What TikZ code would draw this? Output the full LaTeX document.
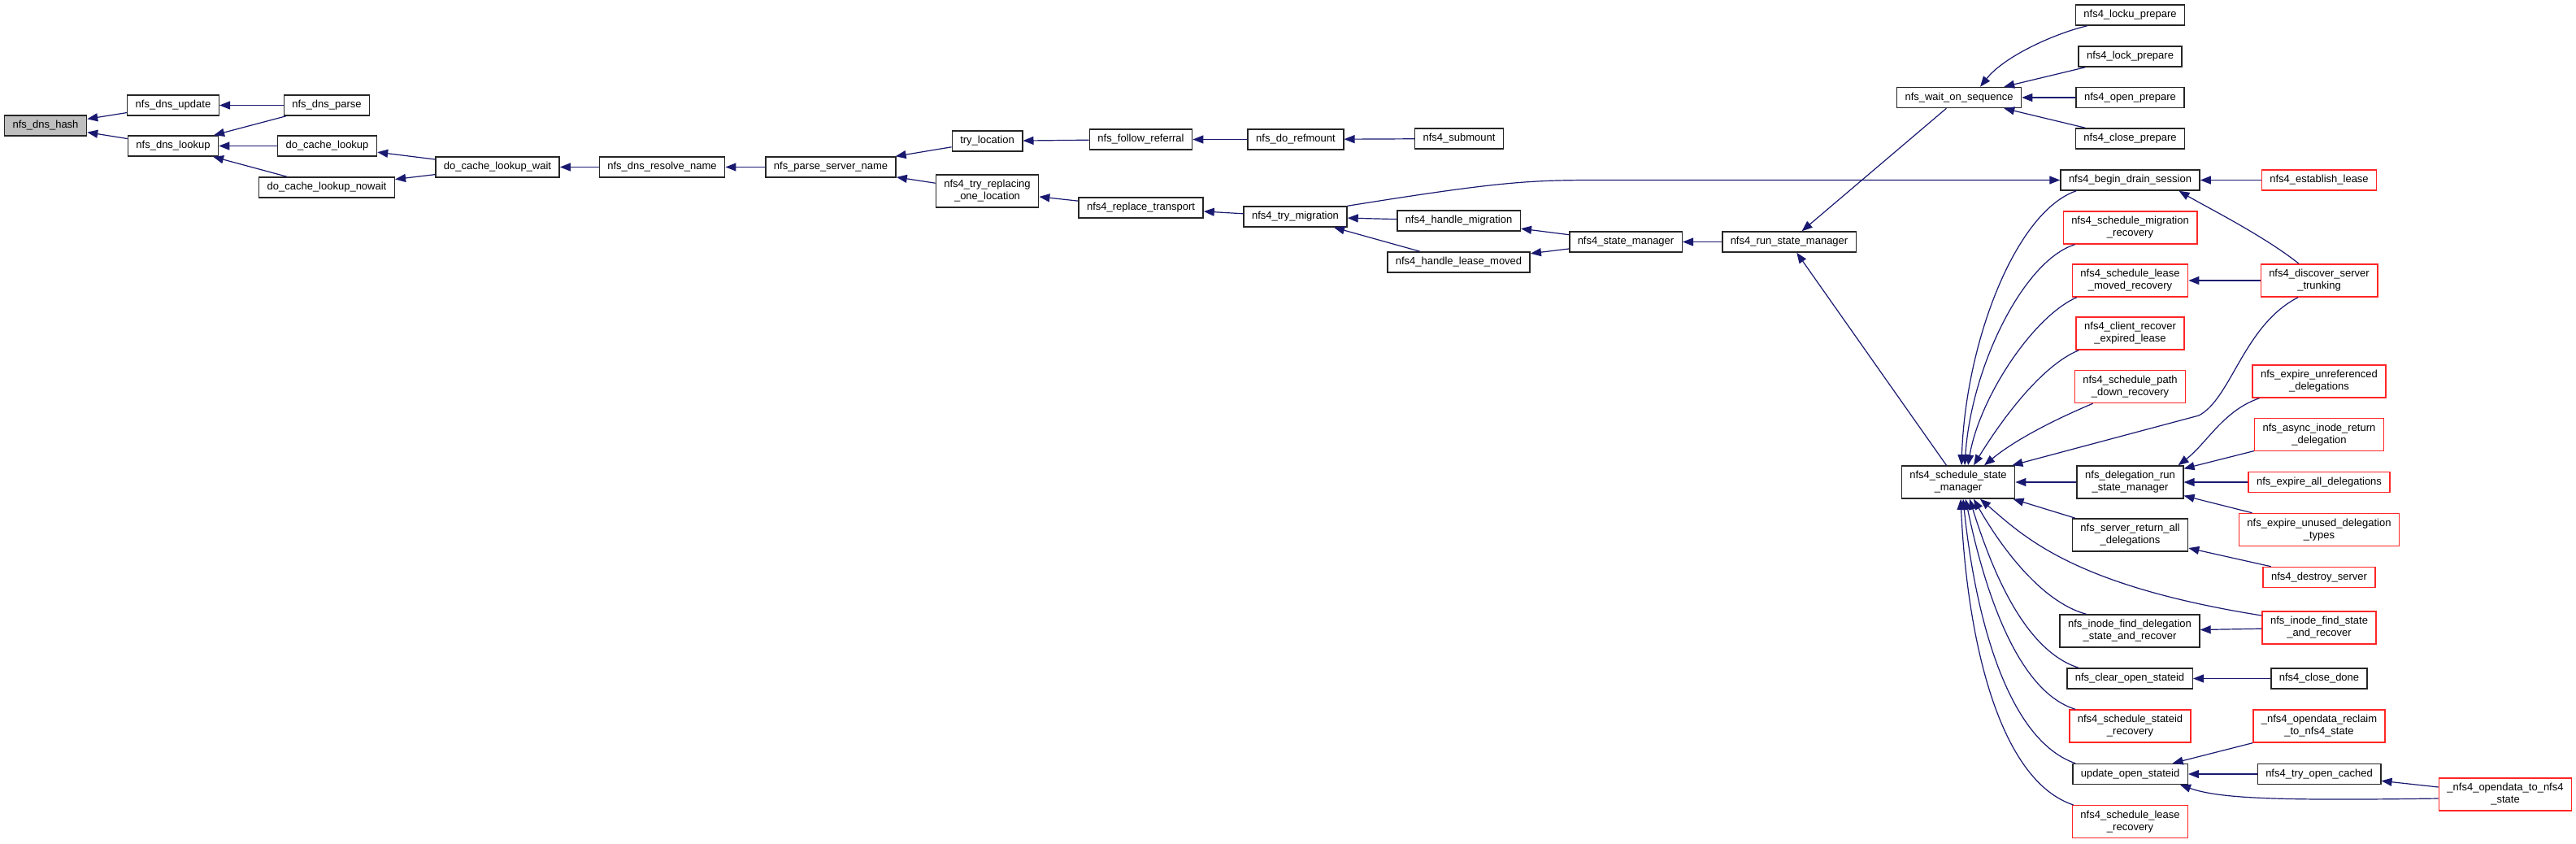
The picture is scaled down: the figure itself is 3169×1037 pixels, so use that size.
\documentclass[tikz,border=0pt]{standalone}
\usepackage{fontspec}
\setmainfont{Liberation Sans}
\usepackage{xcolor}
\usepackage{tikz}
\usetikzlibrary{arrows.meta}
\definecolor{edgeblue}{HTML}{191970}
\definecolor{selgray}{HTML}{BFBFBF}

\begin{document}
\begin{tikzpicture}[x=1pt,y=-1pt,font=\fontsize{13}{15}\selectfont,
  func/.style={draw=black!85,line width=1.5pt,fill=white,inner xsep=10pt,inner ysep=2pt,minimum height=25pt,align=center},
  redfunc/.style={func,draw=red!85},
  two/.style={minimum height=40pt},
  callarr/.style={draw=edgeblue,line width=1.2pt,{Triangle[length=13pt,width=10pt]}-}]
  \useasboundingbox (0,0) rectangle (3169,1037);
  \node[func,fill=selgray] (hash) at (56,154.5) {nfs\_dns\_hash};
  \node[func] (update) at (213,129.5) {nfs\_dns\_update};
  \node[func] (lookup) at (213,179.5) {nfs\_dns\_lookup};
  \node[func] (parse) at (402,129.5) {nfs\_dns\_parse};
  \node[func] (cachelookup) at (402.5,179.5) {do\_cache\_lookup};
  \node[func] (nowait) at (402,230.5) {do\_cache\_lookup\_nowait};
  \node[func] (cachewait) at (612,205.5) {do\_cache\_lookup\_wait};
  \node[func] (resolve) at (814.5,205.5) {nfs\_dns\_resolve\_name};
  \node[func] (parseserver) at (1022,205.5) {nfs\_parse\_server\_name};
  \node[func] (tryloc) at (1214.5,173.5) {try\_location};
  \node[func,two] (tryreplace) at (1214.5,235) {nfs4\_try\_replacing\\\_one\_location};
  \node[func] (followref) at (1403.5,171.5) {nfs\_follow\_referral};
  \node[func] (refmount) at (1594,171.5) {nfs\_do\_refmount};
  \node[func] (submount) at (1795,170.5) {nfs4\_submount};
  \node[func] (replacetr) at (1403.5,255.5) {nfs4\_replace\_transport};
  \node[func] (trymig) at (1593.5,266.5) {nfs4\_try\_migration};
  \node[func] (handlemig) at (1794.5,271.5) {nfs4\_handle\_migration};
  \node[func] (handlelease) at (1794.5,322.5) {nfs4\_handle\_lease\_moved};
  \node[func] (statemgr) at (2000,297.5) {nfs4\_state\_manager};
  \node[func] (runstate) at (2201,297.5) {nfs4\_run\_state\_manager};
  \node[func] (waitseq) at (2410,120) {nfs\_wait\_on\_sequence};
  \node[func] (locku) at (2620.5,18.5) {nfs4\_locku\_prepare};
  \node[func] (lockprep) at (2620.5,69.5) {nfs4\_lock\_prepare};
  \node[func] (openprep) at (2620.5,120) {nfs4\_open\_prepare};
  \node[func] (closeprep) at (2620.5,170.5) {nfs4\_close\_prepare};
  \node[func] (drain) at (2620.5,221.5) {nfs4\_begin\_drain\_session};
  \node[redfunc] (establish) at (2853,221.5) {nfs4\_establish\_lease};
  \node[redfunc,two] (schedmig) at (2620.5,280) {nfs4\_schedule\_migration\\\_recovery};
  \node[redfunc,two] (leasemoved) at (2620.5,345) {nfs4\_schedule\_lease\\\_moved\_recovery};
  \node[redfunc,two] (discover) at (2853,345) {nfs4\_discover\_server\\\_trunking};
  \node[redfunc,two] (clientrec) at (2620.5,410) {nfs4\_client\_recover\\\_expired\_lease};
  \node[redfunc,two] (pathdown) at (2620.5,475.5) {nfs4\_schedule\_path\\\_down\_recovery};
  \node[redfunc,two] (expireunref) at (2853,469) {nfs\_expire\_unreferenced\\\_delegations};
  \node[redfunc,two] (asyncret) at (2853,534.5) {nfs\_async\_inode\_return\\\_delegation};
  \node[func,two] (schedstate) at (2409,593) {nfs4\_schedule\_state\\\_manager};
  \node[func,two] (delegrun) at (2620.5,593) {nfs\_delegation\_run\\\_state\_manager};
  \node[redfunc] (expireall) at (2853,593) {nfs\_expire\_all\_delegations};
  \node[redfunc,two] (expireunused) at (2853,651.5) {nfs\_expire\_unused\_delegation\\\_types};
  \node[func,two] (serverret) at (2620.5,658) {nfs\_server\_return\_all\\\_delegations};
  \node[redfunc] (destroy) at (2853,710) {nfs4\_destroy\_server};
  \node[redfunc,two] (inodestate) at (2853,772) {nfs\_inode\_find\_state\\\_and\_recover};
  \node[func,two] (inodedeleg) at (2620,776) {nfs\_inode\_find\_delegation\\\_state\_and\_recover};
  \node[func] (clearopen) at (2620,834.5) {nfs\_clear\_open\_stateid};
  \node[func] (closedone) at (2853,834.5) {nfs4\_close\_done};
  \node[redfunc,two] (schedstateid) at (2620.5,893) {nfs4\_schedule\_stateid\\\_recovery};
  \node[redfunc,two] (reclaim) at (2853,893) {\_nfs4\_opendata\_reclaim\\\_to\_nfs4\_state};
  \node[func] (updateopen) at (2620.5,952) {update\_open\_stateid};
  \node[func] (tryopen) at (2853,952) {nfs4\_try\_open\_cached};
  \node[redfunc,two] (opendata) at (3082,977) {\_nfs4\_opendata\_to\_nfs4\\\_state};
  \node[redfunc,two] (schedlease) at (2620.5,1010.7) {nfs4\_schedule\_lease\\\_recovery};
  \draw[callarr] (hash) -- (update);
  \draw[callarr] (hash) -- (lookup);
  \draw[callarr] (update) -- (parse);
  \draw[callarr] (lookup) -- (parse);
  \draw[callarr] (lookup) -- (cachelookup);
  \draw[callarr] (lookup) -- (nowait);
  \draw[callarr] (cachelookup) -- (cachewait);
  \draw[callarr] (nowait) -- (cachewait);
  \draw[callarr] (cachewait) -- (resolve);
  \draw[callarr] (resolve) -- (parseserver);
  \draw[callarr] (parseserver) -- (tryloc);
  \draw[callarr] (parseserver) -- (tryreplace);
  \draw[callarr] (tryloc) -- (followref);
  \draw[callarr] (followref) -- (refmount);
  \draw[callarr] (refmount) -- (submount);
  \draw[callarr] (tryreplace) -- (replacetr);
  \draw[callarr] (replacetr) -- (trymig);
  \draw[callarr] (trymig) -- (handlemig);
  \draw[callarr] (trymig) -- (handlelease);
  \draw[callarr] (handlemig) -- (statemgr);
  \draw[callarr] (handlelease) -- (statemgr);
  \draw[callarr] (statemgr) -- (runstate);
  \draw[callarr] (drain.west) -- (1962,221.5) .. controls (1880,221.5) and (1840,224) .. (trymig.north east);
  \draw[callarr] (runstate) -- (waitseq);
  \draw[callarr] (runstate) -- (schedstate);
  \draw[callarr] ([xshift=26pt]waitseq.north) .. controls (2465,70) and (2525,42) .. ([xshift=15pt]locku.south west);
  \draw[callarr] (waitseq) -- (lockprep);
  \draw[callarr] (waitseq) -- (openprep);
  \draw[callarr] (waitseq) -- (closeprep);
  \draw[callarr] (drain) -- (establish);
  \draw[callarr] ([xshift=60pt]drain.south) .. controls (2715,255) and (2785,290) .. ([xshift=-25pt]discover.north);
  \draw[callarr] (leasemoved) -- (discover);
  \draw[callarr] ([xshift=4pt]schedstate.north) .. controls (2418,420) and (2480,260) .. ([xshift=20pt]drain.south west);
  \draw[callarr] ([xshift=8pt]schedstate.north) .. controls (2425,450) and (2490,320) .. ([xshift=15pt]schedmig.south west);
  \draw[callarr] ([xshift=12pt]schedstate.north) .. controls (2435,490) and (2500,390) .. ([xshift=6pt]leasemoved.south west);
  \draw[callarr] ([xshift=19pt]schedstate.north) .. controls (2460,520) and (2510,450) .. ([xshift=4pt]clientrec.south west);
  \draw[callarr] ([xshift=32pt]schedstate.north) .. controls (2480,540) and (2530,515) .. ([xshift=23pt]pathdown.south west);
  \draw[callarr] ([xshift=-4pt]schedstate.north east) -- (2705,511) .. controls (2745,490) and (2760,400) .. ([xshift=-26pt]discover.south);
  \draw[callarr] (schedstate) -- (delegrun);
  \draw[callarr] ([xshift=-7pt]delegrun.north east) .. controls (2715,545) and (2735,505) .. ([xshift=9pt]expireunref.south west);
  \draw[callarr] (delegrun) -- (asyncret);
  \draw[callarr] (delegrun) -- (expireall);
  \draw[callarr] (delegrun) -- (expireunused);
  \draw[callarr] (schedstate) -- (serverret);
  \draw[callarr] (serverret) -- (destroy);
  \draw[callarr] ([xshift=27pt]schedstate.south) .. controls (2490,660) and (2550,720) .. ([yshift=15pt]inodestate.west);
  \draw[callarr] (inodedeleg) -- (inodestate);
  \draw[callarr] ([xshift=19pt]schedstate.south) .. controls (2460,670) and (2510,740) .. ([xshift=33pt]inodedeleg.north west);
  \draw[callarr] ([xshift=14pt]schedstate.south) .. controls (2450,700) and (2490,800) .. ([xshift=15pt]clearopen.north west);
  \draw[callarr] (clearopen) -- (closedone);
  \draw[callarr] ([xshift=9pt]schedstate.south) .. controls (2440,720) and (2480,850) .. ([xshift=8pt]schedstateid.north west);
  \draw[callarr] ([xshift=6pt]schedstate.south) .. controls (2430,760) and (2470,910) .. ([xshift=4pt]updateopen.north west);
  \draw[callarr] ([xshift=3pt]schedstate.south) .. controls (2420,790) and (2460,960) .. ([xshift=2pt]schedlease.north west);
  \draw[callarr] (updateopen) -- (reclaim);
  \draw[callarr] (updateopen) -- (tryopen);
  \draw[callarr] ([xshift=-10pt]updateopen.south east) .. controls (2730,982) and (2800,985) .. ([yshift=-5pt]opendata.west);
  \draw[callarr] (tryopen) -- (opendata);
\end{tikzpicture}
\end{document}
